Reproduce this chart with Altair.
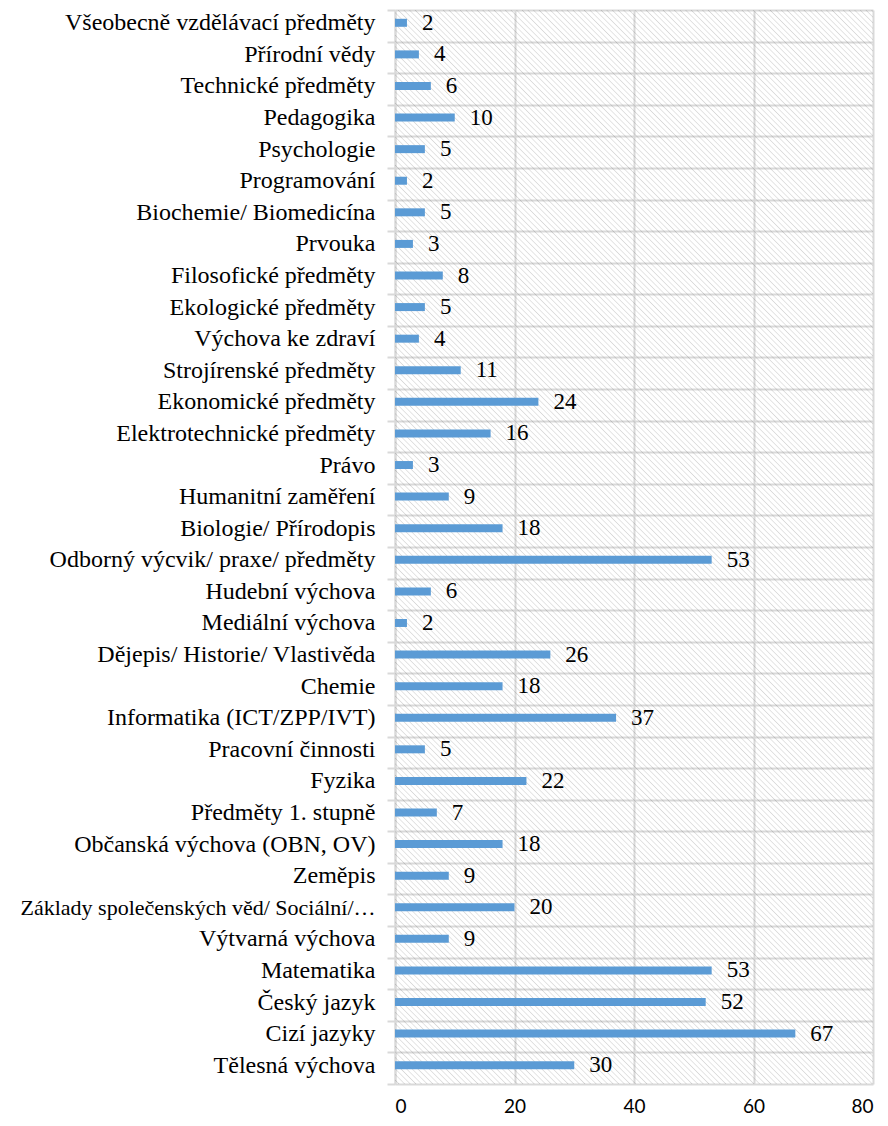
import altair as alt
import pandas as pd

categories = [
    "Všeobecně vzdělávací předměty", "Přírodní vědy", "Technické předměty", "Pedagogika",
    "Psychologie", "Programování", "Biochemie/ Biomedicína", "Prvouka",
    "Filosofické předměty", "Ekologické předměty", "Výchova ke zdraví", "Strojírenské předměty",
    "Ekonomické předměty", "Elektrotechnické předměty", "Právo", "Humanitní zaměření",
    "Biologie/ Přírodopis", "Odborný výcvik/ praxe/ předměty", "Hudební výchova", "Mediální výchova",
    "Dějepis/ Historie/ Vlastivěda", "Chemie", "Informatika (ICT/ZPP/IVT)", "Pracovní činnosti",
    "Fyzika", "Předměty 1. stupně", "Občanská výchova (OBN, OV)", "Zeměpis",
    "Základy společenských věd/ Sociální/…", "Výtvarná výchova", "Matematika", "Český jazyk",
    "Cizí jazyky", "Tělesná výchova",
]
values = [2, 4, 6, 10, 5, 2, 5, 3, 8, 5, 4, 11, 24, 16, 3, 9, 18, 53, 6, 2,
          26, 18, 37, 5, 22, 7, 18, 9, 20, 9, 53, 52, 67, 30]
x_ticks = [0, 20, 40, 60, 80]

df = pd.DataFrame({"cat": categories, "val": values})

W, H = 478, 1074
SERIF = "'Liberation Serif', 'Times New Roman', Times, 'DejaVu Serif', serif"

# hatch background via a striped, mostly transparent linear gradient (style only)
period = 4.0 / 1100.0
clear = "rgba(255,255,255,0)"
line = "rgba(0,0,0,0.15)"
stops = []
k = 0
while (k + 1) * period <= 1.0:
    t = k * period
    stops += [
        {"offset": round(t, 6), "color": clear},
        {"offset": round(t + 0.45 * period, 6), "color": clear},
        {"offset": round(t + 0.72 * period, 6), "color": line},
        {"offset": round(t + period, 6), "color": clear},
    ]
    k += 1
hatch = alt.LinearGradient(gradient="linear", x1=0, y1=1, x2=0.538, y2=-0.2061, stops=stops)

bg = alt.Chart(pd.DataFrame({"one": [1]})).mark_rect(fill=hatch, strokeWidth=0).encode(
    x=alt.value(0), x2=alt.value(W), y=alt.value(0), y2=alt.value(H)
)

y_enc = alt.Y(
    "cat:N", sort=categories, title=None,
    scale=alt.Scale(paddingInner=0, paddingOuter=0),
    axis=alt.Axis(
        tickBand="extent", grid=True, gridColor="#d9d9d9", gridWidth=2,
        domain=True, domainColor="#d9d9d9", domainWidth=2,
        ticks=True, tickColor="#d9d9d9", tickWidth=2, tickSize=8,
        labelFont=SERIF,
        labelFontSize={"condition": {"test": "length(datum.label) > 32", "value": 22}, "value": 24},
        labelColor="#000000", labelOffset=-3,
        labelPadding=12, labelLimit=400,
    ),
)
x_enc = alt.X(
    "val:Q", title=None,
    scale=alt.Scale(domain=[0, 80], nice=False),
    axis=alt.Axis(
        values=x_ticks, grid=True, gridColor="#d9d9d9", gridWidth=2,
        domain=False, ticks=False,
        labelFont="Lato", labelFontSize=19, labelColor="#000000", labelPadding=13,
    ),
)

bars = alt.Chart(df).mark_bar(size=8, color="#5B9BD5", yOffset=-3).encode(x=x_enc, y=y_enc)
labels = alt.Chart(df).mark_text(
    align="left", baseline="middle", dx=15, dy=-3, font=SERIF, fontSize=23, color="#000000"
).encode(x=alt.X("val:Q"), y=alt.Y("cat:N", sort=categories), text=alt.Text("val:Q"))

chart = (
    alt.layer(bg, bars, labels)
    .properties(
        width=W, height=H,
        autosize=alt.AutoSizeParams(type="none"),
        padding={"left": 387, "top": 2, "right": 7, "bottom": 38},
    )
    .configure_view(stroke=None)
)

chart.save("out.html", embed_options={"renderer": "svg", "actions": False})
